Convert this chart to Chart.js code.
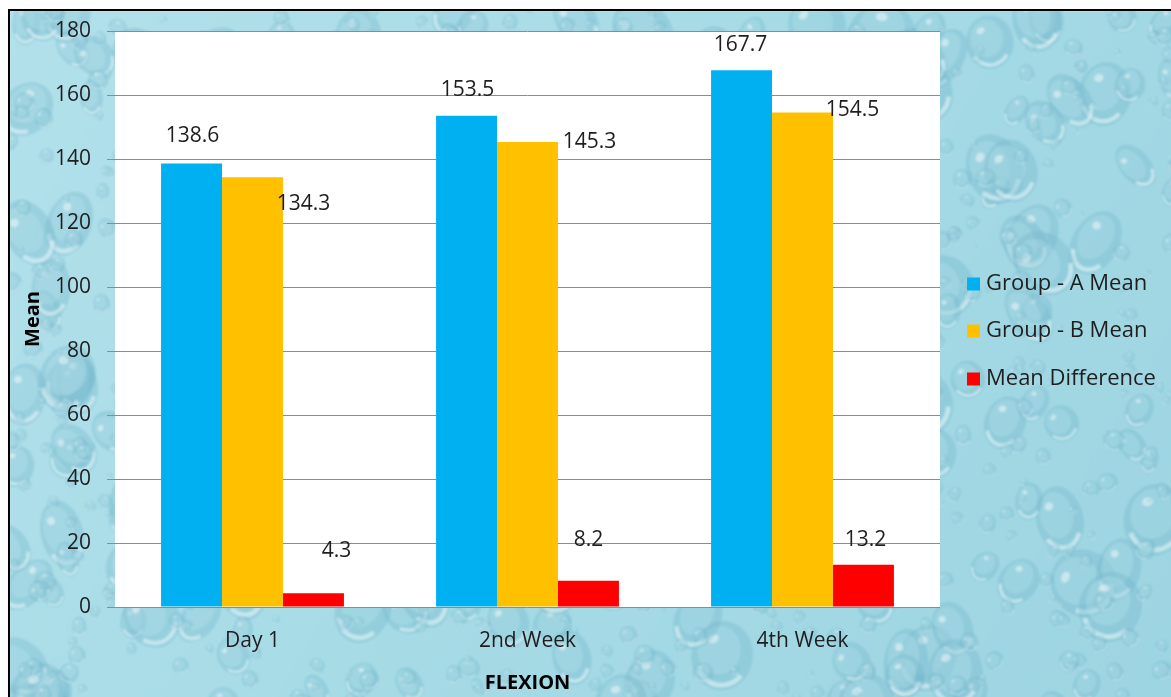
<!DOCTYPE html>
<html>
<head>
<meta charset="utf-8">
<script src="https://cdn.jsdelivr.net/npm/chart.js@4.4.1/dist/chart.umd.min.js"></script>
<style>
  html, body { margin: 0; padding: 0; background: #fff; }
  canvas { display: block; }
</style>
</head>
<body>
<canvas id="chart" width="1171" height="697"></canvas>
<script>
// ---- data ----
const categories = ['Day 1', '2nd Week', '4th Week'];
const groupAMean = [138.6, 153.5, 167.7];
const groupBMean = [134.3, 145.3, 154.5];
const meanDifference = [4.3, 8.2, 13.2];
const seriesNames = ['Group - A Mean', 'Group - B Mean', 'Mean Difference'];
const yAxisRange = [0, 180];
const yAxisStep = 20;

// ---- styles ----
const FONT = '"Open Sans", "Noto Sans", sans-serif';
const TEXT = '#1e1e1e';
const seriesColors = ['#00B0F0', '#FFC000', '#FF0000'];

// Value-label offsets (px) from each bar's top centre, per series and category
const labelOffsets = [
  [[1, -27], [1, -26], [-1, -25]],
  [[51, 27], [62, 0], [50, -3]],
  [[23, -42], [0, -41], [2, -25]]
];

// ---- water-drop backdrop ----
function hash(n) {
  const s = Math.sin(n * 127.1 + 311.7) * 43758.5453;
  return s - Math.floor(s);
}
function drawDrop(g, x, y, r, stretch, rot) {
  const rx = r * stretch, ry = r;
  g.save();
  g.translate(x, y);
  g.rotate(rot);
  // drop body, darker towards the rim
  g.fillStyle = 'rgba(105,175,198,0.30)';
  g.beginPath();
  g.ellipse(0, 0, rx, ry, 0, 0, Math.PI * 2);
  g.fill();
  g.fillStyle = 'rgba(190,232,240,0.30)';
  g.beginPath();
  g.ellipse(-rx * 0.12, -ry * 0.15, rx * 0.7, ry * 0.7, 0, 0, Math.PI * 2);
  g.fill();
  // reflected light on the lower edge
  g.strokeStyle = 'rgba(235,250,252,0.55)';
  g.lineWidth = Math.max(1, r * 0.14);
  g.beginPath();
  g.ellipse(0, 0, rx * 0.85, ry * 0.85, 0, Math.PI * 0.2, Math.PI * 0.8);
  g.stroke();
  // specular spot
  g.fillStyle = 'rgba(255,255,255,0.45)';
  g.beginPath();
  g.ellipse(-rx * 0.35, -ry * 0.45, Math.max(1, rx * 0.18), Math.max(1, ry * 0.12), -0.5, 0, Math.PI * 2);
  g.fill();
  g.restore();
}
function buildTexture(w, h) {
  const c = document.createElement('canvas');
  c.width = w; c.height = h;
  const g = c.getContext('2d');
  const bg = g.createLinearGradient(0, 0, w, h);
  bg.addColorStop(0, '#b2e1eb');
  bg.addColorStop(0.5, '#a6dbe6');
  bg.addColorStop(1, '#9ed5e2');
  g.fillStyle = bg;
  g.fillRect(0, 0, w, h);
  // large drops first, small ones on top
  for (let i = 0; i < 260; i++) {
    const x = hash(i * 3 + 1) * w;
    const y = hash(i * 3 + 2) * h;
    const r = 14 + hash(i * 3 + 3) * 22;
    drawDrop(g, x, y, r, 0.6 + hash(i + 7) * 0.35, (hash(i * 5 + 11) - 0.5) * 1.6);
  }
  for (let i = 0; i < 700; i++) {
    const k = i + 5000;
    const x = hash(k * 3 + 1) * w;
    const y = hash(k * 3 + 2) * h;
    const r = 3 + hash(k * 3 + 3) * 8;
    drawDrop(g, x, y, r, 0.7 + hash(k + 7) * 0.4, (hash(k * 5 + 11) - 0.5) * 1.6);
  }
  // soften once
  const out = document.createElement('canvas');
  out.width = w; out.height = h;
  const o = out.getContext('2d');
  o.filter = 'blur(1.2px)';
  o.drawImage(c, 0, 0);
  return out;
}
const texture = buildTexture(1171, 697);

const backdropPlugin = {
  id: 'backdrop',
  beforeDraw(chart) {
    const { ctx, chartArea: a, width, height } = chart;
    ctx.save();
    ctx.fillStyle = '#fff';
    ctx.fillRect(0, 0, width, height);
    ctx.drawImage(texture, 9, 10);
    ctx.fillStyle = '#000';
    ctx.fillRect(8, 9, width - 8, 2);
    ctx.fillRect(8, 9, 2, height - 9);
    ctx.fillStyle = '#fff';
    ctx.fillRect(a.left, a.top, a.right - a.left, a.bottom - a.top);
    ctx.restore();
  }
};

const valueLabelPlugin = {
  id: 'valueLabels',
  afterDatasetsDraw(chart) {
    const { ctx } = chart;
    ctx.save();
    ctx.font = '21px ' + FONT;
    ctx.fillStyle = TEXT;
    ctx.textAlign = 'center';
    ctx.textBaseline = 'middle';
    chart.data.datasets.forEach((ds, di) => {
      chart.getDatasetMeta(di).data.forEach((bar, i) => {
        const [dx, dy] = labelOffsets[di][i];
        ctx.fillText(ds.data[i].toFixed(1), bar.x + dx, bar.y + dy);
      });
    });
    ctx.restore();
  }
};

const sideLegendPlugin = {
  id: 'sideLegend',
  afterDraw(chart) {
    const { ctx } = chart;
    const rows = [284, 331, 379];
    ctx.save();
    ctx.font = '22px ' + FONT;
    ctx.textAlign = 'left';
    ctx.textBaseline = 'middle';
    chart.data.datasets.forEach((ds, di) => {
      const y = rows[di];
      ctx.fillStyle = ds.backgroundColor;
      ctx.fillRect(967, y - 6.5, 13, 13);
      ctx.fillStyle = TEXT;
      ctx.fillText(ds.label, 986, y);
    });
    ctx.restore();
  }
};

const seriesValues = [groupAMean, groupBMean, meanDifference];

new Chart(document.getElementById('chart'), {
  type: 'bar',
  data: {
    labels: categories,
    datasets: seriesValues.map((vals, i) => ({
      label: seriesNames[i],
      data: vals,
      backgroundColor: seriesColors[i],
      borderWidth: 0
    }))
  },
  options: {
    responsive: false,
    animation: false,
    layout: { padding: { left: 10, top: 31, right: 231, bottom: 0 } },
    datasets: { bar: { categoryPercentage: 0.665, barPercentage: 1 } },
    plugins: {
      legend: { display: false },
      tooltip: { enabled: false }
    },
    scales: {
      x: {
        grid: { display: false, drawTicks: false },
        border: { display: false },
        ticks: { font: { family: FONT, size: 21 }, color: TEXT, padding: 21 },
        title: {
          display: true, text: 'FLEXION', color: '#000',
          font: { family: FONT, size: 20, weight: 'bold' },
          padding: { top: 0, bottom: 2 }
        },
        afterFit(s) { s.height = 90; }
      },
      y: {
        min: yAxisRange[0],
        max: yAxisRange[1],
        ticks: { stepSize: yAxisStep, font: { family: FONT, size: 21 }, color: TEXT, padding: 16 },
        grid: { color: '#8c8c8c', lineWidth: 1, tickLength: 8 },
        border: { display: false },
        title: {
          display: true, text: 'Mean', color: '#000',
          font: { family: FONT, size: 20, weight: 'bold' },
          padding: { top: 11, bottom: 0 }
        },
        afterFit(s) { s.width = 105; }
      }
    }
  },
  plugins: [backdropPlugin, valueLabelPlugin, sideLegendPlugin]
});
</script>
</body>
</html>
